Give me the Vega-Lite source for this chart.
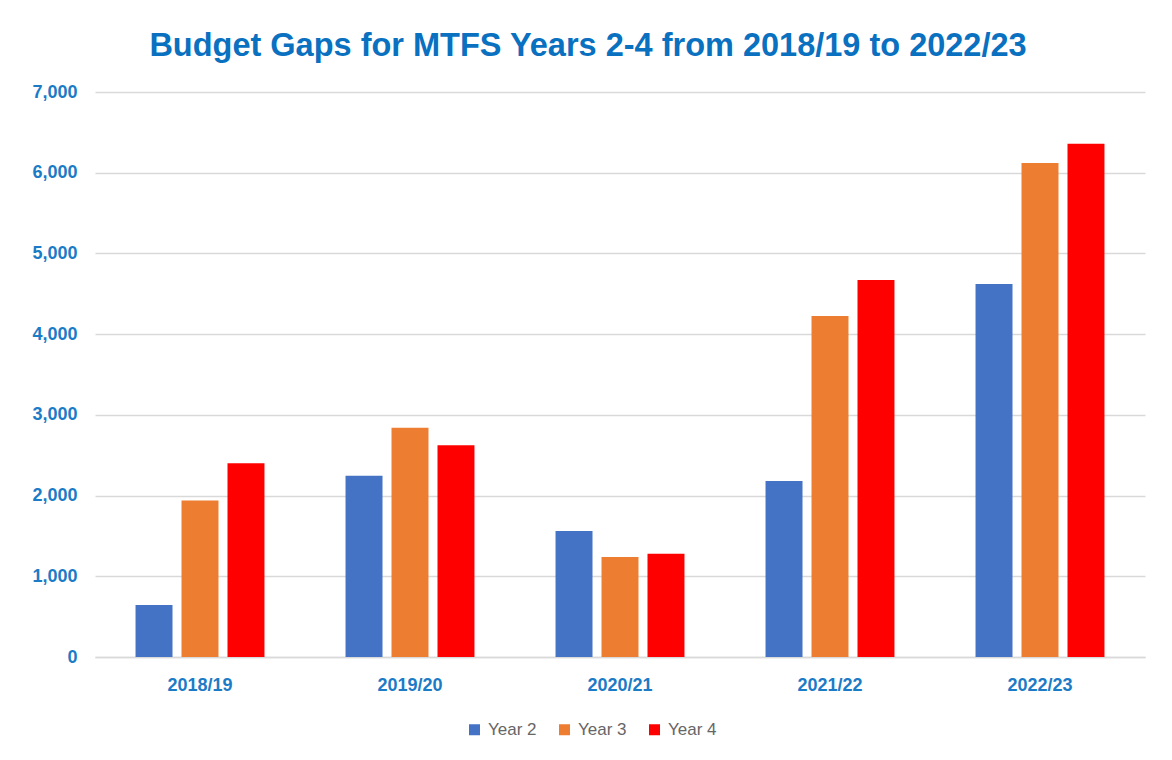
{
  "$schema": "https://vega.github.io/schema/vega-lite/v6.json",
  "width": 1050,
  "height": 565,
  "autosize": {"type": "none"},
  "padding": {"left": 95, "top": 92, "right": 27, "bottom": 103},
  "background": "white",
  "title": {
    "text": "Budget Gaps for MTFS Years 2-4 from 2018/19 to 2022/23",
    "font": "Liberation Sans",
    "fontSize": 32.5,
    "fontWeight": "bold",
    "color": "#0A70C0",
    "anchor": "middle",
    "frame": "group",
    "dx": -32,
    "offset": 21
  },
  "data": {
    "values": [
      {"year": "2018/19", "series": "Year 2", "value": 645},
      {"year": "2018/19", "series": "Year 3", "value": 1940},
      {"year": "2018/19", "series": "Year 4", "value": 2400},
      {"year": "2019/20", "series": "Year 2", "value": 2245},
      {"year": "2019/20", "series": "Year 3", "value": 2840},
      {"year": "2019/20", "series": "Year 4", "value": 2625},
      {"year": "2020/21", "series": "Year 2", "value": 1560},
      {"year": "2020/21", "series": "Year 3", "value": 1240},
      {"year": "2020/21", "series": "Year 4", "value": 1280},
      {"year": "2021/22", "series": "Year 2", "value": 2180},
      {"year": "2021/22", "series": "Year 3", "value": 4225},
      {"year": "2021/22", "series": "Year 4", "value": 4670},
      {"year": "2022/23", "series": "Year 2", "value": 4620},
      {"year": "2022/23", "series": "Year 3", "value": 6120},
      {"year": "2022/23", "series": "Year 4", "value": 6360}
    ]
  },
  "mark": {"type": "bar"},
  "encoding": {
    "x": {
      "field": "year",
      "type": "nominal",
      "sort": null,
      "scale": {"paddingInner": 0.386, "paddingOuter": 0.193},
      "axis": {
        "title": null,
        "labelAngle": 0,
        "ticks": false,
        "domainColor": "#d9d9d9",
        "domainWidth": 1.5,
        "labelFont": "Liberation Sans",
        "labelFontSize": 18,
        "labelFontWeight": "bold",
        "labelColor": "#1C7BC6",
        "labelPadding": 19
      }
    },
    "xOffset": {
      "field": "series",
      "type": "nominal",
      "sort": ["Year 2", "Year 3", "Year 4"],
      "scale": {"paddingInner": 0.196, "paddingOuter": 0}
    },
    "y": {
      "field": "value",
      "type": "quantitative",
      "scale": {"domain": [0, 7000]},
      "axis": {
        "title": null,
        "values": [0, 1000, 2000, 3000, 4000, 5000, 6000, 7000],
        "format": ",.0f",
        "domain": false,
        "ticks": false,
        "grid": true,
        "gridColor": "#d9d9d9",
        "gridWidth": 1.5,
        "labelFont": "Liberation Sans",
        "labelFontSize": 18,
        "labelFontWeight": "bold",
        "labelColor": "#1C7BC6",
        "labelPadding": 18
      }
    },
    "color": {
      "field": "series",
      "type": "nominal",
      "sort": ["Year 2", "Year 3", "Year 4"],
      "scale": {"domain": ["Year 2", "Year 3", "Year 4"], "range": ["#4472C4", "#ED7D31", "#FF0000"]},
      "legend": {
        "title": null,
        "orient": "none",
        "direction": "horizontal",
        "legendX": 371,
        "legendY": 629,
        "symbolType": "square",
        "symbolSize": 121,
        "symbolStrokeWidth": 0,
        "labelFont": "Liberation Sans",
        "labelFontSize": 17,
        "labelColor": "#666666",
        "labelOffset": 5,
        "columnPadding": 19
      }
    }
  },
  "config": {"view": {"stroke": null}}
}
